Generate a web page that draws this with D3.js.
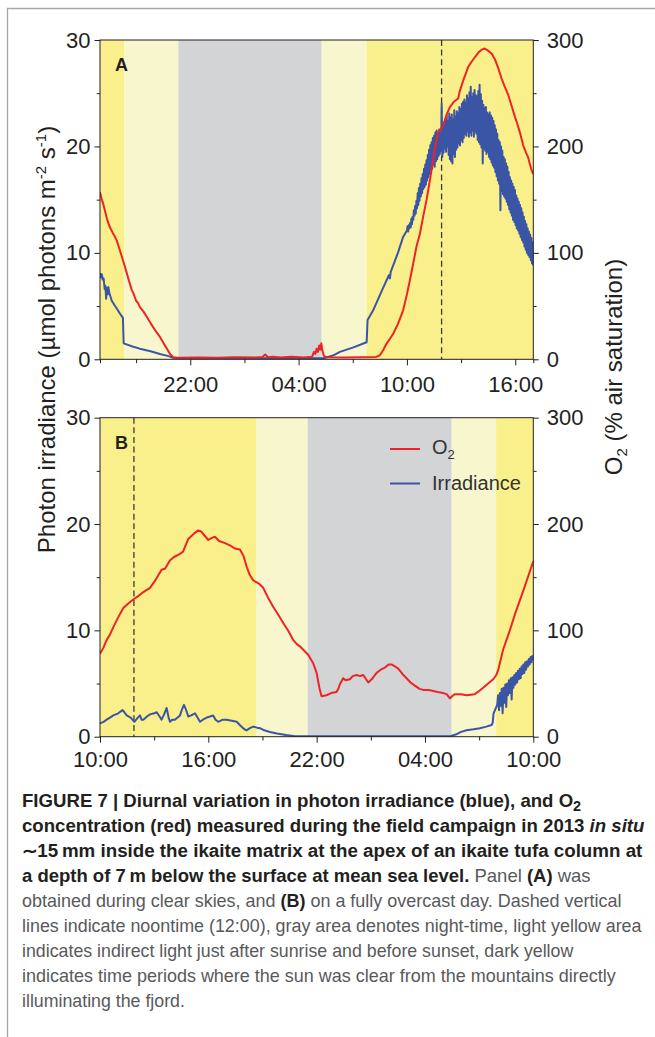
<!DOCTYPE html>
<html>
<head>
<meta charset="utf-8">
<script src="https://cdn.jsdelivr.net/npm/d3@7"></script>
<style>
body { margin: 0; background: #fff; }
svg text { font-family: "Liberation Sans", Arial, Helvetica, sans-serif; }
</style>
</head>
<body>
<div id="fig"></div>
<script>
// ---- data (hours; panel A runs 17:00 -> 17:00, panel B 10:00 -> 10:00) ----
var domainA = [17, 41],
    domainB = [10, 34];

// light periods: [from, to, kind]
var bandsA = [[17, 18.35, "sun"], [18.35, 21.34, "indirect"], [21.34, 29.28, "night"], [29.28, 31.77, "indirect"], [31.77, 41, "sun"]];
var bandsB = [[10, 18.64, "sun"], [18.64, 21.5, "indirect"], [21.5, 29.48, "night"], [29.48, 31.94, "indirect"], [31.94, 34, "sun"]];

var noonA = 35.92,
    noonB = 11.88;

// O2 (% air saturation), panel A
var o2A = [[17.0,157],[17.1,150],[17.18,146],[17.3,138],[17.4,131],[17.55,124],[17.7,119],[17.8,116],[17.92,112],[18.05,105],
  [18.2,97],[18.38,87],[18.5,80],[18.6,74],[18.76,65],[18.85,62],[19.0,55],[19.1,53],[19.21,49],[19.4,45],[19.59,40],[19.8,34],
  [19.95,30],[20.15,25],[20.32,21],[20.6,13],[20.88,5],[21.06,2],[21.3,1.5],[22.5,1.8],[23.5,1.5],[24.5,2],[25.6,1.6],[26.0,2.2],
  [26.15,4.5],[26.3,2],[26.6,2.5],[27.0,1.8],[27.6,2.4],[28.3,1.8],[28.75,2.5],[28.85,7],[28.93,5],[29.0,10],[29.07,7],[29.14,13],
  [29.2,9],[29.26,15],[29.32,8],[29.4,3],[29.6,2],[30.5,1.8],[31.5,2],[32.3,2.2],[32.5,3.8],[32.7,9],[32.87,14.8],[33.05,19],
  [33.24,24],[33.5,33],[33.79,46],[34.0,61],[34.16,74],[34.35,90],[34.53,106],[34.72,118],[34.9,134],[35.09,150],[35.27,168],
  [35.45,187],[35.6,203],[35.73,213],[35.85,216],[36.0,219],[36.2,230],[36.38,237],[36.6,242],[36.84,245],[36.93,252],[37.12,262],
  [37.25,268],[37.4,275],[37.6,280],[37.77,284],[38.0,289],[38.15,291],[38.3,292],[38.5,290],[38.7,287],[38.87,282],[39.05,274],
  [39.24,264],[39.4,257],[39.6,249],[39.8,238],[39.98,228],[40.1,222],[40.26,213],[40.44,201],[40.6,194],[40.71,190],[40.8,184],
  [40.9,178],[41.0,174]];

// photon irradiance, panel A (smooth part)
var irrA = [[17.0,8.1],[17.05,7.7],[17.1,8.0],[17.15,7.5],[17.2,7.6],[17.26,6.6],[17.3,6.9],[17.34,5.7],[17.38,6.7],[17.42,6.1],
  [17.46,6.8],[17.52,6.2],[17.58,5.9],[17.65,5.5],[17.8,5.1],[17.92,4.8],[18.1,4.3],[18.27,3.9],[18.31,1.5],[18.8,1.2],[19.2,1.0],
  [19.8,0.75],[20.32,0.5],[20.8,0.3],[21.05,0.15],[21.5,0.1],[29.4,0.1],[29.9,0.35],[30.29,0.7],[31.0,1.1],[31.77,1.6],[31.82,3.7],
  [32.13,4.6],[32.6,6.4],[33.0,7.9],[33.06,7.6],[33.1,8.2],[33.5,10.0],[33.79,11.5]];

// photon irradiance, panel A, noisy midday record (sampled every 0.035 h from 34:00)
var irrANoonStart = 34.0, irrANoonStep = 0.035;
var irrANoon = [
  12.1,12.5,12.0,12.6,12.3,12.8,12.4,13.2,12.7,13.4,
  13.1,14.0,13.5,14.4,13.7,14.9,14.2,15.6,14.5,16.1,
  14.9,16.5,15.3,17.0,15.6,17.4,16.0,17.9,16.2,18.3,
  16.4,18.7,16.8,19.2,17.1,19.7,17.4,20.1,17.8,20.4,
  17.9,20.8,18.3,21.0,18.1,21.3,18.6,21.5,18.8,21.2,
  19.1,21.6,19.3,21.0,19.6,24.0,19.0,22.0,19.4,22.3,
  19.8,22.6,19.5,22.9,20.0,22.4,19.2,23.1,18.8,22.7,
  18.6,23.0,18.4,22.5,19.3,23.4,19.0,22.8,19.7,23.3,
  19.9,23.1,20.3,23.7,20.1,23.5,20.6,24.0,20.4,24.2,
  20.8,24.4,21.2,24.1,21.0,24.8,21.4,24.5,20.9,25.1,
  21.3,25.6,21.0,24.6,21.5,25.0,20.9,25.3,21.4,24.8,
  21.2,24.7,20.6,25.2,20.4,25.8,20.2,24.9,19.9,24.3,
  18.4,23.9,19.8,23.6,19.6,23.7,19.3,23.2,19.5,23.0,
  19.0,23.2,18.8,22.9,18.5,22.7,18.2,22.4,18.0,22.0,
  17.6,21.6,17.2,21.2,16.8,20.6,16.5,20.4,14.0,20.0,
  15.8,19.6,15.5,19.0,15.3,18.8,15.1,18.4,14.8,18.1,
  14.5,17.6,14.1,17.1,13.8,16.8,13.5,16.5,13.1,16.2,
  12.9,15.9,12.6,15.4,12.3,15.1,12.1,14.8,11.8,14.5,
  11.5,14.2,11.2,13.8,11.0,13.4,10.6,13.0,10.3,12.7,
  10.0,12.3,9.8,12.0,9.6,11.7,9.3,11.4,9.0,11.0,
  8.8];

// O2 (% air saturation), panel B
var o2B = [[10.0,78],[10.2,84],[10.37,91],[10.55,96],[10.74,103],[11.0,112],[11.29,121],[11.55,125],[11.84,129],[12.1,132],
  [12.4,136],[12.77,140],[13.1,148],[13.41,157],[13.6,158],[13.88,166],[14.1,169],[14.43,172],[14.6,174],[14.89,186],[15.2,191],
  [15.44,194],[15.6,193],[15.8,189],[16.0,185],[16.2,187],[16.37,188],[16.6,184],[16.92,182],[17.2,180],[17.47,177],[17.75,176],
  [17.95,170],[18.12,160],[18.3,152],[18.49,147],[18.8,144],[19.04,140],[19.3,131],[19.6,122],[19.9,114],[20.15,107],[20.45,99],
  [20.7,91],[20.9,87],[21.07,85],[21.3,81],[21.53,77],[21.81,69],[22.0,60],[22.15,46],[22.27,38],[22.55,39],[22.8,41],[23.1,42],
  [23.2,45],[23.28,49],[23.47,55],[23.6,53],[23.84,54],[24.0,57],[24.21,58],[24.4,57],[24.58,58],[24.86,51],[25.1,55],[25.32,60],
  [25.55,63],[25.78,65],[26.0,68],[26.15,68],[26.35,66],[26.52,64],[26.75,59],[26.98,55],[27.2,51],[27.44,48],[27.7,45],[27.9,44],
  [28.2,44],[28.46,43],[28.7,42],[29.01,41],[29.2,40],[29.38,36],[29.5,38],[29.66,40],[30.0,40],[30.3,39],[30.76,40],[31.0,43],
  [31.22,46],[31.5,50],[31.78,54],[31.95,58],[32.06,63],[32.33,82],[32.7,100],[33.0,116],[33.5,140],[34.0,165]];

// photon irradiance, panel B (smooth part)
var irrB = [[10.0,1.25],[10.2,1.4],[10.37,1.6],[10.55,1.8],[10.74,2.0],[11.01,2.2],[11.25,2.5],[11.35,2.3],[11.48,2.0],[11.7,1.8],
  [11.9,1.4],[12.05,1.7],[12.21,2.0],[12.3,1.6],[12.4,1.6],[12.6,1.9],[12.77,2.1],[13.0,2.2],[13.14,2.3],[13.3,1.9],[13.41,1.6],
  [13.55,2.1],[13.69,2.7],[13.8,1.8],[13.88,1.4],[14.0,1.6],[14.15,1.6],[14.3,1.8],[14.43,2.0],[14.55,2.6],[14.65,3.0],[14.75,2.6],
  [14.89,1.9],[15.05,2.0],[15.26,2.2],[15.4,1.8],[15.54,1.4],[15.7,1.6],[15.91,1.8],[16.1,1.9],[16.27,2.0],[16.4,1.6],[16.55,1.4],
  [16.8,1.6],[17.01,1.6],[17.3,1.5],[17.57,1.4],[17.8,1.0],[18.0,0.7],[18.12,0.6],[18.3,0.8],[18.49,0.95],[18.7,0.85],[18.86,0.8],
  [19.1,0.6],[19.41,0.45],[19.8,0.3],[20.3,0.15],[20.8,0.05],[29.4,0.05],[29.7,0.2],[30.0,0.45],[30.3,0.6],[30.7,0.7],[31.04,0.8],
  [31.4,0.95],[31.69,1.1],[31.75,1.3],[31.8,2.2],[31.9,2.6]];

// photon irradiance, panel B, noisy morning record (every 0.05 h from 08:00)
var irrBDawnStart = 32.0, irrBDawnStep = 0.05;
var irrBDawn = [3.0,3.9,2.5,4.1,2.9,4.5,2.2,4.6,3.2,4.9,2.8,5.0,3.9,5.3,4.1,5.5,3.5,5.6,4.6,5.8,4.9,6.0,5.1,6.2,5.4,6.4,5.5,6.6,5.9,6.8,6.0,7.0,6.3,7.1,6.6,7.3,6.8,7.5,7.0,7.6,7.2];

var xMajorA = [22, 28, 34, 40], xMinorA = [17, 19, 25, 31, 37, 41];
var xMajorB = [10, 16, 22, 28, 34], xMinorB = [13, 19, 25, 31];
var yMajorIrr = [0, 10, 20, 30], yMinorIrr = [5, 15, 25];
var yMajorO2 = [0, 100, 200, 300], yMinorO2 = [50, 150, 250];

var captionLines = [
  [["FIGURE 7 | Diurnal variation in photon irradiance (blue), and O", "b"], ["2", "bsub"]],
  [["concentration (red) measured during the field campaign in 2013 ", "b"], ["in situ", "bi"]],
  [["\u223c15\u2009mm inside the ikaite matrix at the apex of an ikaite tufa column at", "b"]],
  [["a depth of 7\u2009m below the surface at mean sea level.", "b"], [" Panel ", "r"], ["(A)", "b"], [" was", "r"]],
  [["obtained during clear skies, and ", "r"], ["(B)", "b"], [" on a fully overcast day. Dashed vertical", "r"]],
  [["lines indicate noontime (12:00), gray area denotes night-time, light yellow area", "r"]],
  [["indicates indirect light just after sunrise and before sunset, dark yellow", "r"]],
  [["indicates time periods where the sun was clear from the mountains directly", "r"]],
  [["illuminating the fjord.", "r"]]
];
var captionEnds = [582, 645, 643, 591, 622, 643, 575, 616, 185];

// ---- drawing ----
var width = 655, height = 1037;
var plotLeft = 100, plotRight = 533.3;
var ink = "#231f20";
var bandColor = { sun: "#faf08b", indirect: "#f8f6cc", night: "#d3d4d6" };

var svg = d3.select("#fig").append("svg")
    .attr("width", width)
    .attr("height", height);

// figure frame (top + left rule)
svg.append("path")
    .attr("d", "M7.5," + height + "V8.5H" + width)
    .attr("fill", "none")
    .attr("stroke", "#a5a7aa")
    .attr("stroke-width", 1.3);

function hourLabel(h) {
    var hh = ((h % 24) + 24) % 24;
    return (hh < 10 ? "0" : "") + hh + ":00";
}

function withSamples(pairs, start, step, values) {
    return pairs.concat(values.map(function(v, i) { return [start + i * step, v]; }));
}

function drawPanel(p) {
    var g = svg.append("g");
    var x = d3.scaleLinear().domain(p.domain).range([plotLeft, plotRight]);
    var yI = d3.scaleLinear().domain([0, 30]).range([p.bottom, p.top]);
    var yO = d3.scaleLinear().domain([0, 300]).range([p.bottom, p.top]);

    g.selectAll("rect.band")
        .data(p.bands)
        .enter().append("rect")
        .attr("class", "band")
        .attr("x", function(d) { return x(d[0]); })
        .attr("width", function(d) { return x(d[1]) - x(d[0]); })
        .attr("y", p.top)
        .attr("height", p.bottom - p.top)
        .attr("fill", function(d) { return bandColor[d[2]]; });

    var clipId = "clip" + p.name;
    g.append("clipPath").attr("id", clipId)
      .append("rect")
        .attr("x", plotLeft).attr("y", p.top)
        .attr("width", plotRight - plotLeft).attr("height", p.bottom - p.top);

    g.append("line")
        .attr("x1", x(p.noon)).attr("x2", x(p.noon))
        .attr("y1", p.top).attr("y2", p.bottom)
        .attr("stroke", "#3a3a3a")
        .attr("stroke-width", 1.3)
        .attr("stroke-dasharray", "6,3.6");

    var lineIrr = d3.line().x(function(d) { return x(d[0]); }).y(function(d) { return yI(d[1]); });
    var lineO2 = d3.line().x(function(d) { return x(d[0]); }).y(function(d) { return yO(d[1]); });

    var curves = g.append("g").attr("clip-path", "url(#" + clipId + ")");
    curves.append("path").datum(p.irr)
        .attr("d", lineIrr)
        .attr("fill", "none")
        .attr("stroke", "#3a55a5")
        .attr("stroke-width", 2)
        .attr("stroke-linejoin", "round");
    curves.append("path").datum(p.o2)
        .attr("d", lineO2)
        .attr("fill", "none")
        .attr("stroke", "#ee2327")
        .attr("stroke-width", 2)
        .attr("stroke-linejoin", "round");

    g.append("rect")
        .attr("x", plotLeft).attr("y", p.top)
        .attr("width", plotRight - plotLeft).attr("height", p.bottom - p.top)
        .attr("fill", "none")
        .attr("stroke", ink)
        .attr("stroke-width", 1);

    function tidy(sel) {
        sel.select(".domain").remove();
        sel.selectAll("line").attr("stroke", ink);
        sel.selectAll("text").style("font-size", "22px").attr("fill", ink);
    }

    g.append("g").attr("transform", "translate(" + plotLeft + ",0)")
        .call(d3.axisLeft(yI).tickValues(yMajorIrr).tickSize(5.5).tickPadding(4)).call(tidy);
    g.append("g").attr("transform", "translate(" + plotLeft + ",0)")
        .call(d3.axisLeft(yI).tickValues(yMinorIrr).tickSize(3.3).tickFormat("")).call(tidy);
    g.append("g").attr("transform", "translate(" + plotRight + ",0)")
        .call(d3.axisRight(yO).tickValues(yMajorO2).tickSize(5.5).tickPadding(8)).call(tidy);
    g.append("g").attr("transform", "translate(" + plotRight + ",0)")
        .call(d3.axisRight(yO).tickValues(yMinorO2).tickSize(3.3).tickFormat("")).call(tidy);
    g.append("g").attr("transform", "translate(0," + p.bottom + ")")
        .call(d3.axisBottom(x).tickValues(p.xMajor).tickFormat(hourLabel).tickSize(6).tickPadding(p.xPad)).call(tidy);
    g.append("g").attr("transform", "translate(0," + p.bottom + ")")
        .call(d3.axisBottom(x).tickValues(p.xMinor).tickSize(3.8).tickFormat("")).call(tidy);

    g.append("text")
        .attr("x", 115).attr("y", p.top + 31)
        .style("font-size", "18px").style("font-weight", "bold")
        .attr("fill", ink)
        .text(p.name);
}

drawPanel({
    name: "A", top: 40, bottom: 359.3, domain: domainA, bands: bandsA, noon: noonA,
    o2: o2A, irr: withSamples(irrA, irrANoonStart, irrANoonStep, irrANoon),
    xMajor: xMajorA, xMinor: xMinorA, xPad: 11.5
});
drawPanel({
    name: "B", top: 417.7, bottom: 736.7, domain: domainB, bands: bandsB, noon: noonB,
    o2: o2B, irr: withSamples(irrB, irrBDawnStart, irrBDawnStep, irrBDawn),
    xMajor: xMajorB, xMinor: xMinorB, xPad: 8.5
});

// axis titles
var yTitle = svg.append("text")
    .attr("transform", "translate(55,339.5) rotate(-90)")
    .attr("text-anchor", "middle")
    .style("font-size", "24px")
    .attr("fill", ink);
yTitle.append("tspan").text("Photon irradiance (\u00b5mol photons m");
yTitle.append("tspan").attr("dy", -9).style("font-size", "15px").text("-2");
yTitle.append("tspan").attr("dy", 9).text(" s");
yTitle.append("tspan").attr("dy", -9).style("font-size", "15px").text("-1");
yTitle.append("tspan").attr("dy", 9).text(")");

var oTitle = svg.append("text")
    .attr("transform", "translate(622,367) rotate(-90)")
    .attr("text-anchor", "middle")
    .style("font-size", "24px")
    .attr("fill", ink);
oTitle.append("tspan").text("O");
oTitle.append("tspan").attr("dy", 5).style("font-size", "15px").text("2");
oTitle.append("tspan").attr("dy", -5).text(" (% air saturation)");

// legend (panel B)
var legend = svg.append("g");
var legendItems = [["#ee2327", 449, 454], ["#3a55a5", 483.5, 490]];
legend.selectAll("line").data(legendItems).enter().append("line")
    .attr("x1", 390).attr("x2", 420)
    .attr("y1", function(d) { return d[1]; }).attr("y2", function(d) { return d[1]; })
    .attr("stroke", function(d) { return d[0]; })
    .attr("stroke-width", 2);
var lo = legend.append("text").attr("x", 432).attr("y", 454).style("font-size", "20px").attr("fill", "#333");
lo.append("tspan").text("O");
lo.append("tspan").attr("dy", 5).style("font-size", "13px").text("2");
legend.append("text").attr("x", 432).attr("y", 490).style("font-size", "20px").attr("fill", "#333").text("Irradiance");

// caption
var capTop = 807, capStep = 25;
captionLines.forEach(function(parts, i) {
    var t = svg.append("text")
        .attr("x", 0).attr("y", 0)
        .style("font-size", "18px");
    parts.forEach(function(seg) {
        var s = t.append("tspan").text(seg[0]);
        var style = seg[1];
        if (style === "r") { s.attr("fill", "#58595b"); }
        else { s.attr("fill", ink).style("font-weight", "bold"); }
        if (style === "bi") s.style("font-style", "italic");
        if (style === "bsub") s.attr("dy", 4).style("font-size", "14px");
    });
    var natural = t.node().getBBox().width;
    var sx = (captionEnds[i] - 22) / natural;
    t.attr("transform", "translate(22," + (capTop + i * capStep) + ") scale(" + sx + ",1)");
});
</script>
</body>
</html>
